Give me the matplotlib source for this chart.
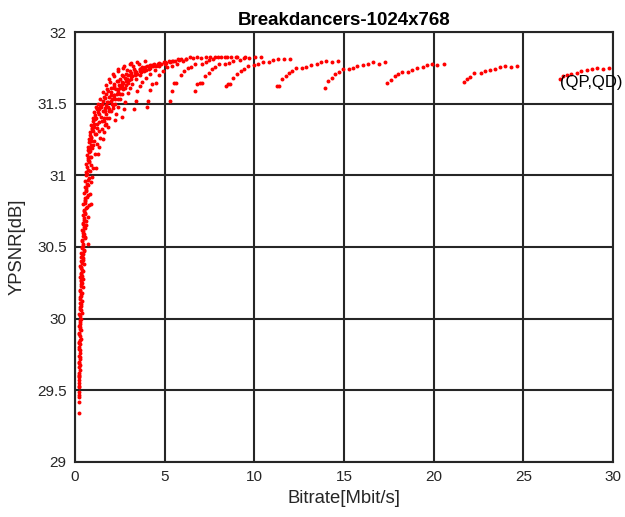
import matplotlib
matplotlib.use("Agg")
import matplotlib.pyplot as plt

plt.rcParams['font.family'] = ['Liberation Sans', 'DejaVu Sans']

title = "Breakdancers-1024x768"
x_label = "Bitrate[Mbit/s]"
y_label = "YPSNR[dB]"
x_ticks = [0, 5, 10, 15, 20, 25, 30]
y_ticks = [29, 29.5, 30, 30.5, 31, 31.5, 32]
y_tick_labels = ["29", "29.5", "30", "30.5", "31", "31.5", "32"]
annotation = "(QP,QD)"

# Dense low-rate band (many overlapping curves)
band_rate = [0.22, 0.21, 0.22, 0.20, 0.23, 0.21, 0.25, 0.22, 0.24, 0.27, 0.23, 0.26, 0.22, 0.28, 0.24, 0.26,
             0.30, 0.23, 0.27, 0.25, 0.31, 0.28, 0.24, 0.33, 0.27, 0.30,
             0.26, 0.34, 0.29, 0.37, 0.31, 0.27, 0.35, 0.40, 0.30, 0.33, 0.38, 0.29, 0.42, 0.35, 0.32, 0.45,
             0.38, 0.34, 0.41, 0.36, 0.48, 0.33, 0.43, 0.39, 0.36, 0.50, 0.41, 0.45, 0.38, 0.55, 0.75,
             0.43, 0.47, 0.40, 0.52, 0.45, 0.60, 0.49, 0.43, 0.56, 0.51, 0.66, 0.47, 0.58, 0.53, 0.72, 0.50,
             0.62, 0.57, 0.68, 0.55, 0.80, 0.64, 0.59, 0.73, 0.66, 0.92, 0.88, 0.95, 1.15,
             0.62, 0.76, 0.70, 0.85, 0.66, 0.80, 0.74, 0.95, 0.72, 0.88, 0.80, 1.05, 0.78, 0.92, 0.86, 1.15,
             0.84, 1.00, 0.94, 1.25, 0.90, 1.08, 1.02, 1.35, 0.98, 1.18, 1.12, 1.45, 1.06, 1.28, 1.20, 1.58,
             1.15, 1.38, 1.30, 1.70, 1.62, 1.75,
             1.36, 1.62, 1.90, 1.45, 2.10, 1.72, 1.50, 2.25, 1.85, 1.58, 2.05, 2.40,
             1.65, 1.90, 2.20, 1.75, 2.50, 2.00, 1.85, 2.30, 2.65, 2.00, 2.15, 2.45, 2.85,
             2.20, 2.60, 2.35, 3.00, 2.50, 2.80, 3.20, 2.65, 2.95, 3.45, 2.85, 3.15, 3.70,
             3.05, 3.35, 3.95, 3.30, 3.60, 4.20, 3.75, 4.00, 4.50, 4.30, 4.80, 4.65, 5.10, 5.00, 5.45,
             5.40, 5.80, 5.75, 6.20, 6.60, 7.00, 7.50, 8.00, 8.50, 9.00, 9.50]
band_psnr = [29.34, 29.42, 29.45, 29.49, 29.52, 29.55, 29.57, 29.60, 29.62, 29.64, 29.66, 29.68, 29.70, 29.72, 29.74, 29.76,
             29.78, 29.80, 29.82, 29.84, 29.86, 29.88, 29.90, 29.92, 29.94, 29.96,
             29.98, 30.00, 30.02, 30.04, 30.06, 30.08, 30.10, 30.12, 30.14, 30.16, 30.18, 30.20, 30.22, 30.24, 30.26, 30.28,
             30.30, 30.32, 30.34, 30.36, 30.38, 30.40, 30.42, 30.44, 30.46, 30.48, 30.50, 30.52, 30.54, 30.56, 30.52,
             30.58, 30.60, 30.62, 30.64, 30.66, 30.68, 30.70, 30.72, 30.74, 30.76, 30.78, 30.80, 30.82, 30.84, 30.86, 30.88,
             30.90, 30.92, 30.94, 30.96, 30.98, 31.00, 31.02, 31.04, 31.06, 31.07, 30.80, 30.99, 31.05,
             31.08, 31.10, 31.12, 31.13, 31.14, 31.16, 31.18, 31.19, 31.20, 31.21, 31.23, 31.24, 31.25, 31.26, 31.28, 31.29,
             31.30, 31.31, 31.33, 31.33, 31.35, 31.36, 31.38, 31.37, 31.40, 31.40, 31.42, 31.41, 31.44, 31.44, 31.46, 31.45,
             31.48, 31.48, 31.50, 31.47, 31.40, 31.36,
             31.46, 31.45, 31.46, 31.48, 31.47, 31.49, 31.50, 31.50, 31.51, 31.52, 31.53, 31.53,
             31.54, 31.55, 31.56, 31.57, 31.57, 31.58, 31.59, 31.60, 31.60, 31.61, 31.62, 31.63, 31.63,
             31.64, 31.65, 31.66, 31.665, 31.675, 31.68, 31.69, 31.69, 31.70, 31.705, 31.71, 31.715, 31.72,
             31.725, 31.73, 31.735, 31.74, 31.745, 31.75, 31.755, 31.76, 31.765, 31.77, 31.775, 31.78, 31.785, 31.79, 31.795,
             31.80, 31.805, 31.81, 31.815, 31.82, 31.822, 31.825, 31.826, 31.828, 31.826, 31.827]

# Second pass over the same band (further overlapping points)
band2_rate = [0.21, 0.23, 0.20, 0.24, 0.22, 0.26, 0.23, 0.25, 0.29, 0.24, 0.27, 0.22, 0.29, 0.25,
              0.28, 0.32, 0.26, 0.30, 0.35, 0.28, 0.33, 0.39, 0.31, 0.28, 0.36, 0.43, 0.33, 0.30,
              0.39, 0.47, 0.35, 0.42, 0.52, 0.37, 0.45, 0.40, 0.58, 0.48, 0.44, 0.54, 0.63, 0.46,
              0.51, 0.70, 0.55, 0.49, 0.61, 0.77, 0.58, 0.53, 0.67, 0.84, 0.63, 0.60, 0.75, 0.90,
              0.70, 0.68, 0.83, 1.00, 0.76, 0.74, 0.91, 1.10, 0.82, 0.80, 1.00, 1.22, 0.90, 0.88,
              1.10, 1.33, 0.97, 1.05, 1.22, 1.50, 1.12, 1.32, 1.66, 1.25, 1.45, 1.80, 1.40, 1.60,
              2.00, 1.55, 1.78, 2.20, 1.72, 1.95, 2.40, 1.92, 2.15, 2.62, 2.12, 2.38, 2.90, 2.40,
              2.70, 3.25, 2.75, 3.05, 3.55, 3.10, 3.45, 3.90]
band2_psnr = [29.47, 29.53, 29.59, 29.61, 29.69, 29.73, 29.79, 29.83, 29.85, 29.89, 29.93, 29.95, 29.99, 30.03,
              30.07, 30.09, 30.11, 30.15, 30.17, 30.19, 30.23, 30.25, 30.27, 30.29, 30.31, 30.33, 30.35, 30.37,
              30.39, 30.41, 30.43, 30.45, 30.47, 30.49, 30.51, 30.55, 30.57, 30.59, 30.61, 30.63, 30.65, 30.67,
              30.69, 30.71, 30.73, 30.75, 30.77, 30.79, 30.81, 30.83, 30.85, 30.87, 30.89, 30.91, 30.93, 30.95,
              30.97, 31.01, 31.03, 31.05, 31.09, 31.11, 31.13, 31.15, 31.17, 31.19, 31.21, 31.22, 31.24, 31.27,
              31.29, 31.31, 31.32, 31.34, 31.36, 31.38, 31.39, 31.43, 31.45, 31.47, 31.49, 31.51, 31.53, 31.55,
              31.56, 31.58, 31.60, 31.61, 31.63, 31.65, 31.66, 31.67, 31.69, 31.70, 31.71, 31.725, 31.735, 31.74,
              31.75, 31.76, 31.765, 31.775, 31.78, 31.785, 31.79, 31.80]

# Individual (QP, QD) curves, from high bitrate to low bitrate
rate_A = [27.05, 27.20, 27.42, 27.64, 27.98, 28.24, 28.54, 28.84, 29.13, 29.43, 29.76]
psnr_A = [31.67, 31.69, 31.70, 31.71, 31.716, 31.726, 31.735, 31.744, 31.749, 31.744, 31.749]
rate_B = [21.71, 21.85, 22.00, 22.25, 22.63, 22.88, 23.15, 23.44, 23.70, 24.00, 24.33, 24.63]
psnr_B = [31.653, 31.674, 31.688, 31.711, 31.716, 31.726, 31.735, 31.744, 31.758, 31.763, 31.758, 31.763]
rate_C = [17.42, 17.64, 17.83, 18.01, 18.24, 18.57, 18.81, 19.06, 19.39, 19.65, 19.91, 20.21, 20.58]
psnr_C = [31.642, 31.665, 31.693, 31.705, 31.723, 31.723, 31.733, 31.749, 31.754, 31.767, 31.775, 31.767, 31.775]
rate_D = [13.96, 14.11, 14.33, 14.52, 14.71, 14.93, 15.30, 15.52, 15.75, 16.08, 16.34, 16.60, 16.94, 17.27]
psnr_D = [31.61, 31.656, 31.68, 31.707, 31.719, 31.74, 31.74, 31.749, 31.765, 31.767, 31.78, 31.79, 31.78, 31.79]
rate_E = [11.25, 11.36, 11.54, 11.77, 11.92, 12.10, 12.33, 12.66, 12.88, 13.14, 13.48, 13.74, 14.00, 14.33, 14.67]
psnr_E = [31.623, 31.623, 31.67, 31.693, 31.716, 31.726, 31.749, 31.749, 31.758, 31.772, 31.777, 31.79, 31.797, 31.79, 31.80]
rate_F = [8.42, 8.53, 8.64, 8.83, 9.05, 9.24, 9.43, 9.65, 9.98, 10.20, 10.47, 10.80, 11.06, 11.32, 11.66, 11.99]
psnr_F = [31.623, 31.635, 31.635, 31.68, 31.705, 31.73, 31.742, 31.765, 31.767, 31.775, 31.79, 31.793, 31.805, 31.814, 31.81, 31.814]
rate_G = [6.71, 6.82, 6.97, 7.08, 7.23, 7.46, 7.64, 7.83, 8.05, 8.35, 8.61, 8.83, 9.20, 9.43, 9.72, 10.06, 10.36]
psnr_G = [31.59, 31.635, 31.646, 31.646, 31.695, 31.716, 31.744, 31.754, 31.777, 31.777, 31.786, 31.80, 31.805, 31.819, 31.819, 31.823, 31.826]
rate_H = [5.32, 5.43, 5.50, 5.65, 5.91, 6.10, 6.32, 6.49, 6.71, 7.08, 7.30, 7.49, 7.71, 8.13, 8.38, 8.68, 9.02]
psnr_H = [31.52, 31.59, 31.642, 31.646, 31.698, 31.726, 31.747, 31.758, 31.777, 31.78, 31.79, 31.805, 31.81, 31.823, 31.828, 31.823, 31.828]
rate_I = [4.02, 4.09, 4.20, 4.31, 4.50, 4.68, 4.91, 5.13, 5.40, 5.70, 6.00, 6.41, 6.80, 7.30, 7.83]
psnr_I = [31.474, 31.52, 31.595, 31.637, 31.646, 31.698, 31.726, 31.754, 31.765, 31.78, 31.80, 31.823, 31.825, 31.826, 31.828]
rate_J = [3.27, 3.39, 3.46, 3.60, 3.75, 3.95, 4.20, 4.45, 4.70, 5.00, 5.30, 5.60, 5.90, 6.20]
psnr_J = [31.465, 31.52, 31.59, 31.62, 31.65, 31.68, 31.71, 31.735, 31.76, 31.78, 31.79, 31.80, 31.81, 31.815]
rate_K = [2.60, 2.75, 2.79, 2.94, 3.05, 3.20, 3.40, 3.60, 3.85, 4.10, 4.35, 4.65, 4.95, 5.25]
psnr_K = [31.41, 31.465, 31.51, 31.577, 31.61, 31.64, 31.67, 31.70, 31.725, 31.745, 31.76, 31.775, 31.79, 31.80]
rate_L = [2.23, 2.30, 2.40, 2.50, 2.62, 2.78, 2.95, 3.15, 3.35, 3.60, 3.85, 4.10, 4.40, 4.70]
psnr_L = [31.386, 31.43, 31.48, 31.53, 31.57, 31.61, 31.645, 31.675, 31.70, 31.725, 31.745, 31.76, 31.775, 31.785]
rate_M = [1.82, 1.90, 2.00, 2.10, 2.22, 2.36, 2.52, 2.70, 2.90, 3.12, 3.35, 3.60, 3.90, 4.20]
psnr_M = [31.34, 31.40, 31.45, 31.49, 31.53, 31.57, 31.61, 31.645, 31.675, 31.70, 31.72, 31.74, 31.755, 31.77]
rate_N = [1.55, 1.60, 1.68, 1.78, 1.90, 2.05, 2.20, 2.40, 2.60, 2.85, 3.10, 3.40, 3.70]
psnr_N = [31.25, 31.30, 31.35, 31.40, 31.45, 31.50, 31.54, 31.58, 31.62, 31.66, 31.69, 31.72, 31.74]
rate_O = [1.30, 1.35, 1.40, 1.50, 1.60, 1.72, 1.86, 2.00, 2.18, 2.38, 2.60, 2.85, 3.10]
psnr_O = [31.15, 31.20, 31.26, 31.32, 31.38, 31.43, 31.48, 31.52, 31.56, 31.60, 31.64, 31.67, 31.70]

series = [(band_rate, band_psnr), (band2_rate, band2_psnr),
          (rate_A, psnr_A), (rate_B, psnr_B), (rate_C, psnr_C), (rate_D, psnr_D),
          (rate_E, psnr_E), (rate_F, psnr_F), (rate_G, psnr_G), (rate_H, psnr_H), (rate_I, psnr_I),
          (rate_J, psnr_J), (rate_K, psnr_K), (rate_L, psnr_L), (rate_M, psnr_M), (rate_N, psnr_N),
          (rate_O, psnr_O)]

fig = plt.figure(figsize=(6.25, 5.17), dpi=100)
ax = fig.add_axes([0.12, 0.1064, 0.8608, 0.8317])

for r, p in series:
    ax.scatter(r, p, s=8, c='#ff0000', linewidths=0, zorder=3)

ax.text(rate_A[0], psnr_A[0] - 0.02, annotation, fontsize=12, ha='left', va='center',
        color='black', clip_on=False, zorder=4)

ax.set_xlim(0, 30)
ax.set_ylim(29, 32)
ax.set_xticks(x_ticks)
ax.set_yticks(y_ticks)
ax.set_yticklabels(y_tick_labels)
ax.grid(True, color='#262626', linewidth=1.5, linestyle='-')
ax.set_axisbelow(True)
for s in ax.spines.values():
    s.set_linewidth(1.5)
    s.set_color('#262626')
ax.tick_params(length=0, labelsize=11, colors='#262626', pad=6)
ax.set_xlabel(x_label, fontsize=13.3, color='#262626', labelpad=4)
ax.set_ylabel(y_label, fontsize=13.3, color='#262626', labelpad=8)
ax.set_title(title, fontsize=13.5, fontweight='bold', color='black', pad=5)

fig.savefig("out.png", dpi=100)
